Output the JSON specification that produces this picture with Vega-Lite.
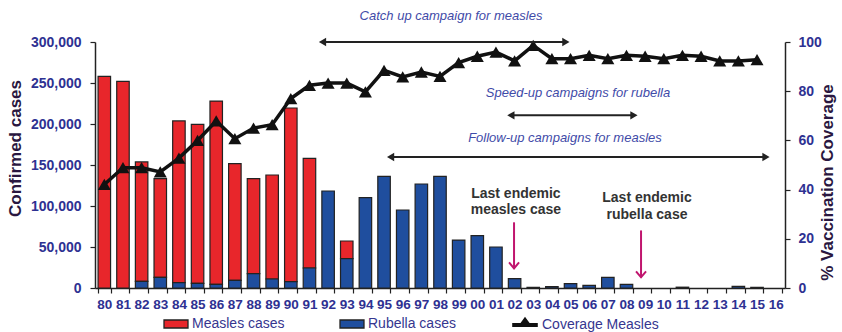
{
  "$schema": "https://vega.github.io/schema/vega-lite/v6.json",
  "width": 690,
  "height": 246,
  "autosize": {"type": "none"},
  "padding": {"left": 95, "top": 42, "right": 57, "bottom": 44},
  "config": {"view": {"stroke": null}, "font": "Liberation Sans", "axis": {"grid": false}},
  "datasets": {
    "cases": [
      {"year": "80", "series": "Measles cases", "value": 258000},
      {"year": "81", "series": "Measles cases", "value": 252000},
      {"year": "82", "series": "Measles cases", "value": 145600},
      {"year": "83", "series": "Measles cases", "value": 120300},
      {"year": "84", "series": "Measles cases", "value": 197200},
      {"year": "85", "series": "Measles cases", "value": 193900},
      {"year": "86", "series": "Measles cases", "value": 223500},
      {"year": "87", "series": "Measles cases", "value": 142300},
      {"year": "88", "series": "Measles cases", "value": 115800},
      {"year": "89", "series": "Measles cases", "value": 126800},
      {"year": "90", "series": "Measles cases", "value": 211800},
      {"year": "91", "series": "Measles cases", "value": 133700},
      {"year": "93", "series": "Measles cases", "value": 21500},
      {"year": "82", "series": "Rubella cases", "value": 8100},
      {"year": "83", "series": "Rubella cases", "value": 13000},
      {"year": "84", "series": "Rubella cases", "value": 6500},
      {"year": "85", "series": "Rubella cases", "value": 5700},
      {"year": "86", "series": "Rubella cases", "value": 4500},
      {"year": "87", "series": "Rubella cases", "value": 9300},
      {"year": "88", "series": "Rubella cases", "value": 17500},
      {"year": "89", "series": "Rubella cases", "value": 11000},
      {"year": "90", "series": "Rubella cases", "value": 7700},
      {"year": "91", "series": "Rubella cases", "value": 24400},
      {"year": "92", "series": "Rubella cases", "value": 118300},
      {"year": "93", "series": "Rubella cases", "value": 35800},
      {"year": "94", "series": "Rubella cases", "value": 110200},
      {"year": "95", "series": "Rubella cases", "value": 136200},
      {"year": "96", "series": "Rubella cases", "value": 95100},
      {"year": "97", "series": "Rubella cases", "value": 126800},
      {"year": "98", "series": "Rubella cases", "value": 136200},
      {"year": "99", "series": "Rubella cases", "value": 58500},
      {"year": "00", "series": "Rubella cases", "value": 63800},
      {"year": "01", "series": "Rubella cases", "value": 50000},
      {"year": "02", "series": "Rubella cases", "value": 11400},
      {"year": "03", "series": "Rubella cases", "value": 800},
      {"year": "04", "series": "Rubella cases", "value": 1600},
      {"year": "05", "series": "Rubella cases", "value": 5300},
      {"year": "06", "series": "Rubella cases", "value": 3300},
      {"year": "07", "series": "Rubella cases", "value": 13000},
      {"year": "08", "series": "Rubella cases", "value": 4500},
      {"year": "11", "series": "Rubella cases", "value": 1000},
      {"year": "14", "series": "Rubella cases", "value": 2000},
      {"year": "15", "series": "Rubella cases", "value": 800}
    ],
    "coverage": [
      {"year": "80", "cov": 42.1}, {"year": "81", "cov": 48.9}, {"year": "82", "cov": 48.9},
      {"year": "83", "cov": 47.2}, {"year": "84", "cov": 52.8}, {"year": "85", "cov": 60.0},
      {"year": "86", "cov": 67.9}, {"year": "87", "cov": 60.7}, {"year": "88", "cov": 65.0},
      {"year": "89", "cov": 66.4}, {"year": "90", "cov": 77.0}, {"year": "91", "cov": 82.4},
      {"year": "92", "cov": 83.3}, {"year": "93", "cov": 83.3}, {"year": "94", "cov": 79.7},
      {"year": "95", "cov": 88.5}, {"year": "96", "cov": 85.8}, {"year": "97", "cov": 87.8},
      {"year": "98", "cov": 86.0}, {"year": "99", "cov": 91.6}, {"year": "00", "cov": 94.2},
      {"year": "01", "cov": 95.9}, {"year": "02", "cov": 92.3}, {"year": "03", "cov": 98.6},
      {"year": "04", "cov": 93.2}, {"year": "05", "cov": 93.2}, {"year": "06", "cov": 94.6},
      {"year": "07", "cov": 93.2}, {"year": "08", "cov": 94.6}, {"year": "09", "cov": 94.2},
      {"year": "10", "cov": 93.2}, {"year": "11", "cov": 94.6}, {"year": "12", "cov": 94.2},
      {"year": "13", "cov": 92.3}, {"year": "14", "cov": 92.3}, {"year": "15", "cov": 92.8}
    ],
    "campaigns": [
      {"label": "Catch up campaign for measles", "start": 12.2, "end": 25.25, "ay": 100, "tx": 19.09, "ty": 110.4},
      {"label": "Speed-up campaigns for rubella", "start": 22.3, "end": 28.9, "ay": 70.2, "tx": 25.9, "ty": 79.1},
      {"label": "Follow-up campaigns for measles", "start": 15.85, "end": 35.98, "ay": 53.25, "tx": 25.2, "ty": 60.85}
    ],
    "endemic": [
      {"line1": "Last endemic", "line2": "measles case", "tx": 22.57, "y1": 38.4, "y2": 31.6, "ax": 22.47, "top": 26.7, "tip": 8.0},
      {"line1": "Last endemic", "line2": "rubella case", "tx": 29.6, "y1": 36.5, "y2": 29.6, "ax": 29.28, "top": 23.4, "tip": 4.35}
    ]
  },
  "layer": [
    {
      "data": {"name": "cases"},
      "mark": {"type": "bar", "stroke": "#222", "strokeWidth": 1.2},
      "encoding": {
        "x": {
          "field": "year", "type": "ordinal",
          "scale": {"type": "band", "domain": ["80","81","82","83","84","85","86","87","88","89","90","91","92","93","94","95","96","97","98","99","00","01","02","03","04","05","06","07","08","09","10","11","12","13","14","15","16"], "paddingInner": 0.33, "paddingOuter": 0.165},
          "axis": {"title": null, "labelAngle": 0, "labelFont": "Liberation Sans", "labelFontWeight": "bold", "labelFontSize": 13.5, "labelColor": "#2e3192", "labelPadding": 4, "tickBand": "extent", "tickSize": 5, "tickColor": "#222", "domainColor": "#222", "domainWidth": 1.5, "tickWidth": 1.2}
        },
        "y": {
          "field": "value", "type": "quantitative", "stack": "zero",
          "scale": {"domain": [0, 300000], "nice": false},
          "axis": {"title": "Confirmed cases", "values": [0, 50000, 100000, 150000, 200000, 250000, 300000], "format": ",.0f", "labelFont": "Liberation Sans", "labelFontWeight": "bold", "labelFontSize": 14, "labelColor": "#2e3192", "labelPadding": 9, "tickSize": 5, "tickColor": "#222", "domainColor": "#222", "domainWidth": 1.5, "tickWidth": 1.2, "titleFont": "Liberation Sans", "titleFontSize": 17, "titleFontWeight": "bold", "titleColor": "#2a1740", "titleAngle": 270, "titleX": -80, "titleY": 106, "titleBaseline": "middle", "titleAlign": "center"}
        },
        "color": {
          "field": "series", "type": "nominal",
          "scale": {"domain": ["Measles cases", "Rubella cases"], "range": ["#e8262b", "#1f4e9e"]},
          "legend": {
            "orient": "none", "legendX": 72, "legendY": 273, "direction": "horizontal", "columns": 2, "title": null,
            "symbolSize": 256, "symbolType": "M-1.5,-0.5H1.5V0.5H-1.5Z", "symbolStrokeWidth": 1.3, "symbolStrokeColor": "#222",
            "labelFont": "Liberation Sans", "labelFontSize": 14, "labelColor": "#36368f", "labelOffset": 7,
            "columnPadding": 52, "gridAlign": "all", "padding": 0
          }
        },
        "order": {"field": "series", "sort": "descending"}
      }
    },
    {
      "data": {"name": "coverage"},
      "mark": {"type": "line", "strokeWidth": 3.5},
      "encoding": {
        "x": {"field": "year", "type": "ordinal", "bandPosition": 0.5,
          "scale": {"type": "band", "domain": ["80","81","82","83","84","85","86","87","88","89","90","91","92","93","94","95","96","97","98","99","00","01","02","03","04","05","06","07","08","09","10","11","12","13","14","15","16"], "paddingInner": 0.33, "paddingOuter": 0.165},
          "axis": null},
        "y": {"field": "cov", "type": "quantitative", "scale": {"domain": [0, 100], "nice": false},
          "axis": {"orient": "right", "title": "% Vaccination Coverage", "values": [0, 20, 40, 60, 80, 100], "labelFont": "Liberation Sans", "labelFontWeight": "bold", "labelFontSize": 14, "labelColor": "#2e3192", "labelPadding": 8, "tickSize": 5, "tickColor": "#222", "domainColor": "#222", "domainWidth": 1.5, "tickWidth": 1.2, "titleFont": "Liberation Sans", "titleFontSize": 17, "titleFontWeight": "bold", "titleColor": "#2a1740", "titleAngle": 270, "titleX": 42, "titleY": 140, "titleBaseline": "middle", "titleAlign": "center"}},
        "color": {
          "datum": "Coverage Measles", "type": "nominal",
          "scale": {"domain": ["Coverage Measles"], "range": ["#111111"]},
          "legend": {
            "orient": "none", "legendX": 420, "legendY": 273, "title": null,
            "symbolSize": 256, "symbolType": "M-1.6,0H1.6M-0.4,-0.05L0,-0.6L0.4,-0.05Z",
            "symbolStrokeWidth": 4, "symbolFillColor": "#111111", "symbolStrokeColor": "#111111",
            "labelFont": "Liberation Sans", "labelFontSize": 14, "labelColor": "#36368f", "labelOffset": 7, "padding": 0
          }
        }
      }
    },
    {
      "data": {"name": "coverage"},
      "mark": {"type": "point", "shape": "triangle-up", "filled": true, "color": "#111", "size": 170, "opacity": 1},
      "encoding": {
        "x": {"field": "year", "type": "ordinal", "bandPosition": 0.5,
          "scale": {"type": "band", "domain": ["80","81","82","83","84","85","86","87","88","89","90","91","92","93","94","95","96","97","98","99","00","01","02","03","04","05","06","07","08","09","10","11","12","13","14","15","16"], "paddingInner": 0.33, "paddingOuter": 0.165},
          "axis": null},
        "y": {"field": "cov", "type": "quantitative", "scale": {"domain": [0, 100], "nice": false}, "axis": null}
      }
    },
    {
      "data": {"name": "campaigns"},
      "mark": {"type": "rule", "color": "#222", "strokeWidth": 2},
      "encoding": {
        "x": {"field": "start", "type": "quantitative", "scale": {"domain": [0, 37], "nice": false, "zero": false}, "axis": null},
        "x2": {"field": "end"},
        "y": {"field": "ay", "type": "quantitative", "scale": {"domain": [0, 100], "nice": false}, "axis": null}
      }
    },
    {
      "data": {"name": "campaigns"},
      "mark": {"type": "point", "shape": "triangle-left", "filled": true, "color": "#222", "size": 70, "opacity": 1},
      "encoding": {
        "x": {"field": "start", "type": "quantitative", "scale": {"domain": [0, 37], "nice": false, "zero": false}, "axis": null},
        "y": {"field": "ay", "type": "quantitative", "scale": {"domain": [0, 100], "nice": false}, "axis": null}
      }
    },
    {
      "data": {"name": "campaigns"},
      "mark": {"type": "point", "shape": "triangle-right", "filled": true, "color": "#222", "size": 70, "opacity": 1},
      "encoding": {
        "x": {"field": "end", "type": "quantitative", "scale": {"domain": [0, 37], "nice": false, "zero": false}, "axis": null},
        "y": {"field": "ay", "type": "quantitative", "scale": {"domain": [0, 100], "nice": false}, "axis": null}
      }
    },
    {
      "data": {"name": "campaigns"},
      "mark": {"type": "text", "font": "Liberation Sans", "fontStyle": "italic", "fontSize": 13, "color": "#3f4ba8", "align": "center", "baseline": "middle"},
      "encoding": {
        "x": {"field": "tx", "type": "quantitative", "scale": {"domain": [0, 37], "nice": false, "zero": false}, "axis": null},
        "y": {"field": "ty", "type": "quantitative", "scale": {"domain": [0, 100], "nice": false}, "axis": null},
        "text": {"field": "label"}
      }
    },
    {
      "data": {"name": "endemic"},
      "mark": {"type": "text", "font": "Liberation Sans", "fontWeight": "bold", "fontSize": 14, "color": "#333", "align": "center", "baseline": "middle"},
      "encoding": {
        "x": {"field": "tx", "type": "quantitative", "scale": {"domain": [0, 37], "nice": false, "zero": false}, "axis": null},
        "y": {"field": "y1", "type": "quantitative", "scale": {"domain": [0, 100], "nice": false}, "axis": null},
        "text": {"field": "line1"}
      }
    },
    {
      "data": {"name": "endemic"},
      "mark": {"type": "text", "font": "Liberation Sans", "fontWeight": "bold", "fontSize": 14, "color": "#333", "align": "center", "baseline": "middle"},
      "encoding": {
        "x": {"field": "tx", "type": "quantitative", "scale": {"domain": [0, 37], "nice": false, "zero": false}, "axis": null},
        "y": {"field": "y2", "type": "quantitative", "scale": {"domain": [0, 100], "nice": false}, "axis": null},
        "text": {"field": "line2"}
      }
    },
    {
      "data": {"name": "endemic"},
      "mark": {"type": "rule", "color": "#c0156e", "strokeWidth": 2},
      "encoding": {
        "x": {"field": "ax", "type": "quantitative", "scale": {"domain": [0, 37], "nice": false, "zero": false}, "axis": null},
        "y": {"field": "top", "type": "quantitative", "scale": {"domain": [0, 100], "nice": false}, "axis": null},
        "y2": {"field": "tip"}
      }
    },
    {
      "data": {"name": "endemic"},
      "mark": {"type": "point", "shape": "M-1,-1.2L0,0L1,-1.2", "filled": false, "color": "#c0156e", "strokeWidth": 2, "size": 100, "opacity": 1},
      "encoding": {
        "x": {"field": "ax", "type": "quantitative", "scale": {"domain": [0, 37], "nice": false, "zero": false}, "axis": null},
        "y": {"field": "tip", "type": "quantitative", "scale": {"domain": [0, 100], "nice": false}, "axis": null}
      }
    }
  ],
  "resolve": {"scale": {"x": "independent", "y": "independent", "color": "independent"}}
}
